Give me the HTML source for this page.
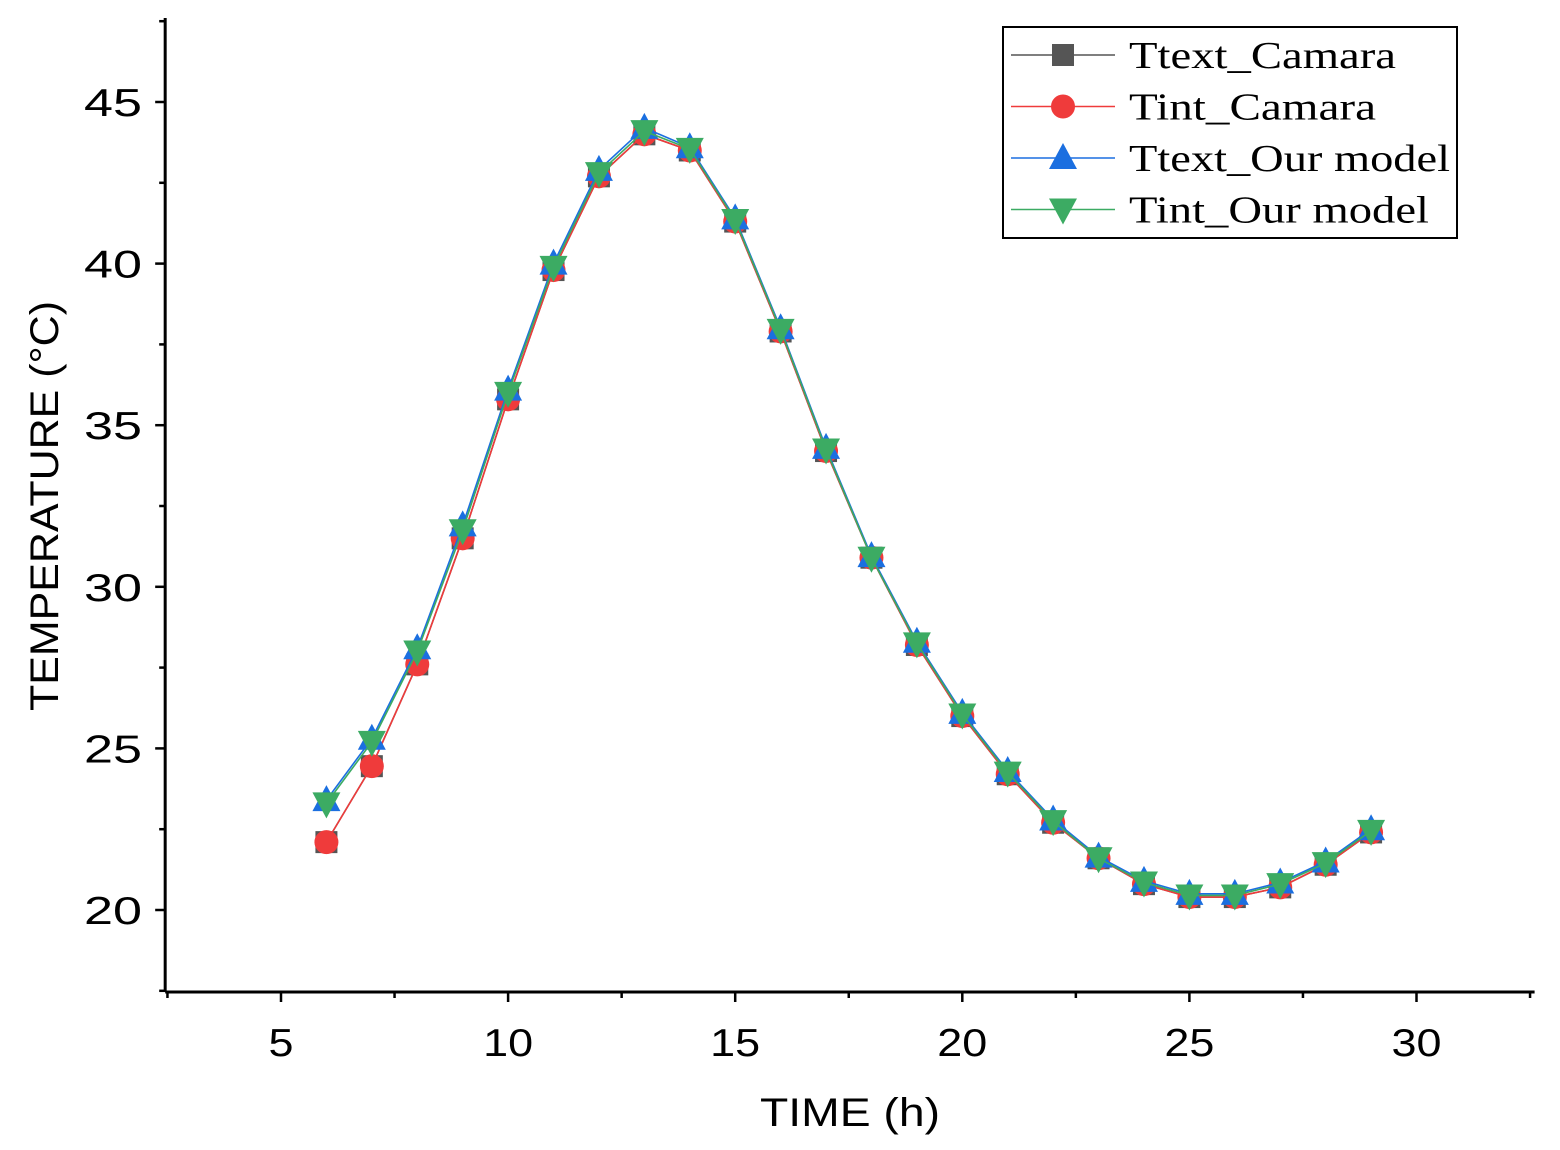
<!DOCTYPE html>
<html><head><meta charset="utf-8"><style>
html,body{margin:0;padding:0;background:#fff;}
svg{display:block;}
</style></head><body>
<svg id="chart" width="1560" height="1150" xmlns="http://www.w3.org/2000/svg"></svg>
<script>
const hours=[6,7,8,9,10,11,12,13,14,15,16,17,18,19,20,21,22,23,24,25,26,27,28,29];
const textCamara=[22.1,24.45,27.6,31.5,35.8,39.8,42.7,44.0,43.5,41.3,37.9,34.2,30.9,28.2,26.0,24.2,22.7,21.6,20.8,20.4,20.4,20.7,21.4,22.4];
const intCamara=[22.1,24.45,27.6,31.5,35.8,39.8,42.7,44.0,43.5,41.3,37.9,34.2,30.9,28.2,26.0,24.2,22.7,21.6,20.8,20.4,20.4,20.7,21.4,22.4];
const textModel=[23.4,25.3,28.1,31.9,36.1,40.0,42.9,44.2,43.6,41.4,38.0,34.3,30.95,28.3,26.1,24.3,22.8,21.65,20.9,20.5,20.5,20.85,21.5,22.5];
const intModel=[23.3,25.2,28.0,31.75,36.0,39.9,42.8,44.1,43.55,41.35,37.95,34.25,30.9,28.25,26.05,24.25,22.75,21.6,20.85,20.45,20.45,20.8,21.45,22.45];
const xTicks=[5,10,15,20,25,30];
const yTicks=[20,25,30,35,40,45];

const NS="http://www.w3.org/2000/svg";
const svg=document.getElementById('chart');
const X=v=>281+(v-5)*45.42;
const Y=v=>910-(v-20)*32.32;
const L=X(2.45),R=X(32.6),T=Y(47.6),B=992;
function mk(tag,attrs,parent){const e=document.createElementNS(NS,tag);for(const k in attrs)e.setAttribute(k,attrs[k]);(parent||svg).appendChild(e);return e;}

const axes=mk('g',{});


mk('line',{x1:L,y1:T,x2:L,y2:B,stroke:'#000','stroke-width':3},axes);
mk('line',{x1:L,y1:B,x2:R,y2:B,stroke:'#000','stroke-width':3},axes);
for(let v=2.5;v<=32.5;v+=2.5){const major=v%5===0;mk('line',{x1:X(v),y1:B,x2:X(v),y2:B+(major?10:6),stroke:'#000','stroke-width':2.5},axes);}
for(let v=17.5;v<=47.5;v+=2.5){const major=v%5===0;mk('line',{x1:L,y1:Y(v),x2:L-(major?10:6),y2:Y(v),stroke:'#000','stroke-width':2.5},axes);}
xTicks.forEach(v=>{const s=String(v);const t=mk('text',{x:X(v),y:1056,'text-anchor':'middle','font-family':'Liberation Sans, sans-serif','font-size':39,textLength:s.length*25,lengthAdjust:'spacingAndGlyphs'},axes);t.textContent=s;

});
yTicks.forEach(v=>{const s=String(v);const t=mk('text',{x:142,y:Y(v)+14,'text-anchor':'end','font-family':'Liberation Sans, sans-serif','font-size':39,textLength:s.length*29,lengthAdjust:'spacingAndGlyphs'},axes);t.textContent=s;

});
const xt=mk('text',{x:850,y:1126,'text-anchor':'middle','font-family':'Liberation Sans, sans-serif','font-size':40,textLength:180,lengthAdjust:'spacingAndGlyphs'});xt.textContent='TIME (h)';


const yt=mk('text',{x:0,y:0,'text-anchor':'middle','font-family':'Liberation Sans, sans-serif','font-size':40,textLength:410,lengthAdjust:'spacingAndGlyphs',transform:'translate(58,506) rotate(-90)'});yt.textContent='TEMPERATURE  (°C)';



function marker(g,type,cx,cy,color){
 if(type==='square')mk('rect',{x:cx-11,y:cy-11,width:22,height:22,fill:color},g);
 else if(type==='circle')mk('circle',{cx:cx,cy:cy,r:12,fill:color},g);
 else if(type==='up')mk('polygon',{points:`${cx},${cy-15} ${cx-14},${cy+11} ${cx+14},${cy+11}`,fill:color},g);
 else mk('polygon',{points:`${cx},${cy+15} ${cx-14},${cy-11} ${cx+14},${cy-11}`,fill:color},g);
}
const series=[
 {name:'Ttext_Camara',data:textCamara,color:'#555555',m:'square',id:'series-ttext-camara',w:267},
 {name:'Tint_Camara',data:intCamara,color:'#ef3b3b',m:'circle',id:'series-tint-camara',w:247},
 {name:'Ttext_Our model',data:textModel,color:'#1b6fe0',m:'up',id:'series-ttext-model',w:321},
 {name:'Tint_Our model',data:intModel,color:'#3cab63',m:'down',id:'series-tint-model',w:300}
];
series.forEach(s=>{
 const g=mk('g',{});
 
 
 mk('polyline',{points:hours.map((h,i)=>X(h)+','+Y(s.data[i])).join(' '),fill:'none',stroke:s.color,'stroke-width':1.6},g);
 hours.forEach((h,i)=>marker(g,s.m,X(h),Y(s.data[i]),s.color));
});

const lg=mk('g',{});


mk('rect',{x:1003,y:27,width:454,height:211,fill:'#fff',stroke:'#000','stroke-width':2},lg);
series.forEach((s,i)=>{
 const cy=55+i*51.5;
 const e=mk('g',{},lg);
 
 
 mk('line',{x1:1011,y1:cy,x2:1115,y2:cy,stroke:s.color,'stroke-width':1.6},e);
 marker(e,s.m,1063,cy,s.color);
 const t=mk('text',{x:1129,y:cy+13,'font-family':'Liberation Serif, serif','font-size':38,textLength:s.w,lengthAdjust:'spacingAndGlyphs'},e);t.textContent=s.name;
});
</script>
</body></html>
